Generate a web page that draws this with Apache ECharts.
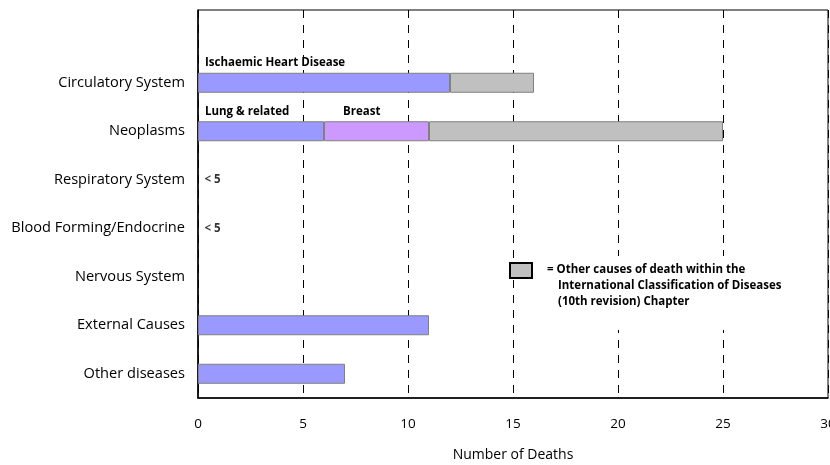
<!DOCTYPE html>
<html>
<head>
<meta charset="utf-8">
<script src="https://cdn.jsdelivr.net/npm/echarts@6/dist/echarts.min.js"></script>
<style>html,body{margin:0;padding:0;background:#fff;}#c{width:830px;height:465px;}</style>
</head>
<body>
<div id="c"></div>
<script>
// categories bottom to top (last is an empty spacer row)
var categories = ['Other diseases', 'External Causes', 'Nervous System', 'Blood Forming/Endocrine', 'Respiratory System', 'Neoplasms', 'Circulatory System', ''];
var specificValues = [7, 11, null, null, null, 6, 12, null];
var specificLabels = [null, null, null, null, null, 'Lung & related', 'Ischaemic Heart Disease', null];
var breastValues = [null, null, null, null, null, 5, null, null];
var breastLabels = [null, null, null, null, null, 'Breast', null, null];
var otherValues = [null, null, null, null, null, 14, 4, null];
var smallLabels = [null, null, null, '< 5', '< 5', null, null, null];
var xTicks = [0, 5, 10, 15, 20, 25, 30];

var FONT = 'Open Sans';
var boldLabel = {fontFamily: FONT, fontSize: 11.5, fontWeight: 'bold', color: '#000'};

function withLabels(values, labels, offX) {
  return values.map(function (v, i) {
    if (labels[i]) {
      return {value: v, label: Object.assign({show: true, formatter: labels[i], position: [offX, -10], align: 'left', verticalAlign: 'middle'}, boldLabel)};
    }
    return v;
  });
}

var chart = echarts.init(document.getElementById('c'), null, {renderer: 'canvas'});
chart.setOption({
  animation: false,
  grid: {left: 198, right: 2, top: 10, bottom: 67, outerBoundsMode: 'none', containLabel: false, show: true, borderColor: '#000', borderWidth: 1, backgroundColor: 'transparent'},
  xAxis: {
    type: 'value', min: xTicks[0], max: xTicks[xTicks.length - 1], interval: 5,
    axisLine: {show: true, lineStyle: {color: '#000', width: 1.5}},
    axisTick: {show: false},
    axisLabel: {margin: 19, fontFamily: FONT, fontSize: 13.5, color: '#000'},
    splitLine: {show: true, lineStyle: {color: '#000', type: [8, 7], width: 1}},
    name: 'Number of Deaths', nameLocation: 'middle', nameGap: 50,
    nameTextStyle: {fontFamily: FONT, fontSize: 14, color: '#000'}
  },
  yAxis: {
    type: 'category', data: categories,
    axisLine: {show: true, lineStyle: {color: '#000', width: 1.5}},
    axisTick: {show: false},
    axisLabel: {margin: 13, fontFamily: FONT, fontSize: 14.6, color: '#000'}
  },
  series: [
    {type: 'bar', stack: 's', barWidth: 20, data: withLabels(specificValues, specificLabels, 7),
     itemStyle: {color: '#9999ff', borderColor: '#808080', borderWidth: 1}},
    {type: 'bar', stack: 's', barWidth: 20, data: withLabels(breastValues, breastLabels, 19),
     itemStyle: {color: '#cc99ff', borderColor: '#808080', borderWidth: 1}},
    {type: 'bar', stack: 's', barWidth: 20, data: otherValues,
     itemStyle: {color: '#c0c0c0', borderColor: '#808080', borderWidth: 1}},
    {type: 'scatter', symbolSize: 1, itemStyle: {color: 'transparent'},
     data: smallLabels.map(function (t, i) { return t ? {value: [0, categories[i]], name: t} : null; }).filter(Boolean),
     label: Object.assign({show: true, position: 'right', distance: 6, formatter: '{b}'}, boldLabel)}
  ],
  graphic: [
    {type: 'rect', z: 99, left: 540, top: 256, shape: {width: 255, height: 74}, style: {fill: '#fff'}},
    {type: 'rect', z: 100, left: 509, top: 262, shape: {width: 22, height: 15}, style: {fill: '#c0c0c0', stroke: '#000', lineWidth: 2}},
    {type: 'text', z: 100, left: 547, top: 264, style: {text: '= Other causes of death within the', fill: '#000', font: 'bold 11.5px "Open Sans"'}},
    {type: 'text', z: 100, left: 558, top: 280, style: {text: 'International Classification of Diseases', fill: '#000', font: 'bold 11.5px "Open Sans"'}},
    {type: 'text', z: 100, left: 558, top: 296, style: {text: '(10th revision) Chapter', fill: '#000', font: 'bold 11.5px "Open Sans"'}}
  ]
});
</script>
</body>
</html>
